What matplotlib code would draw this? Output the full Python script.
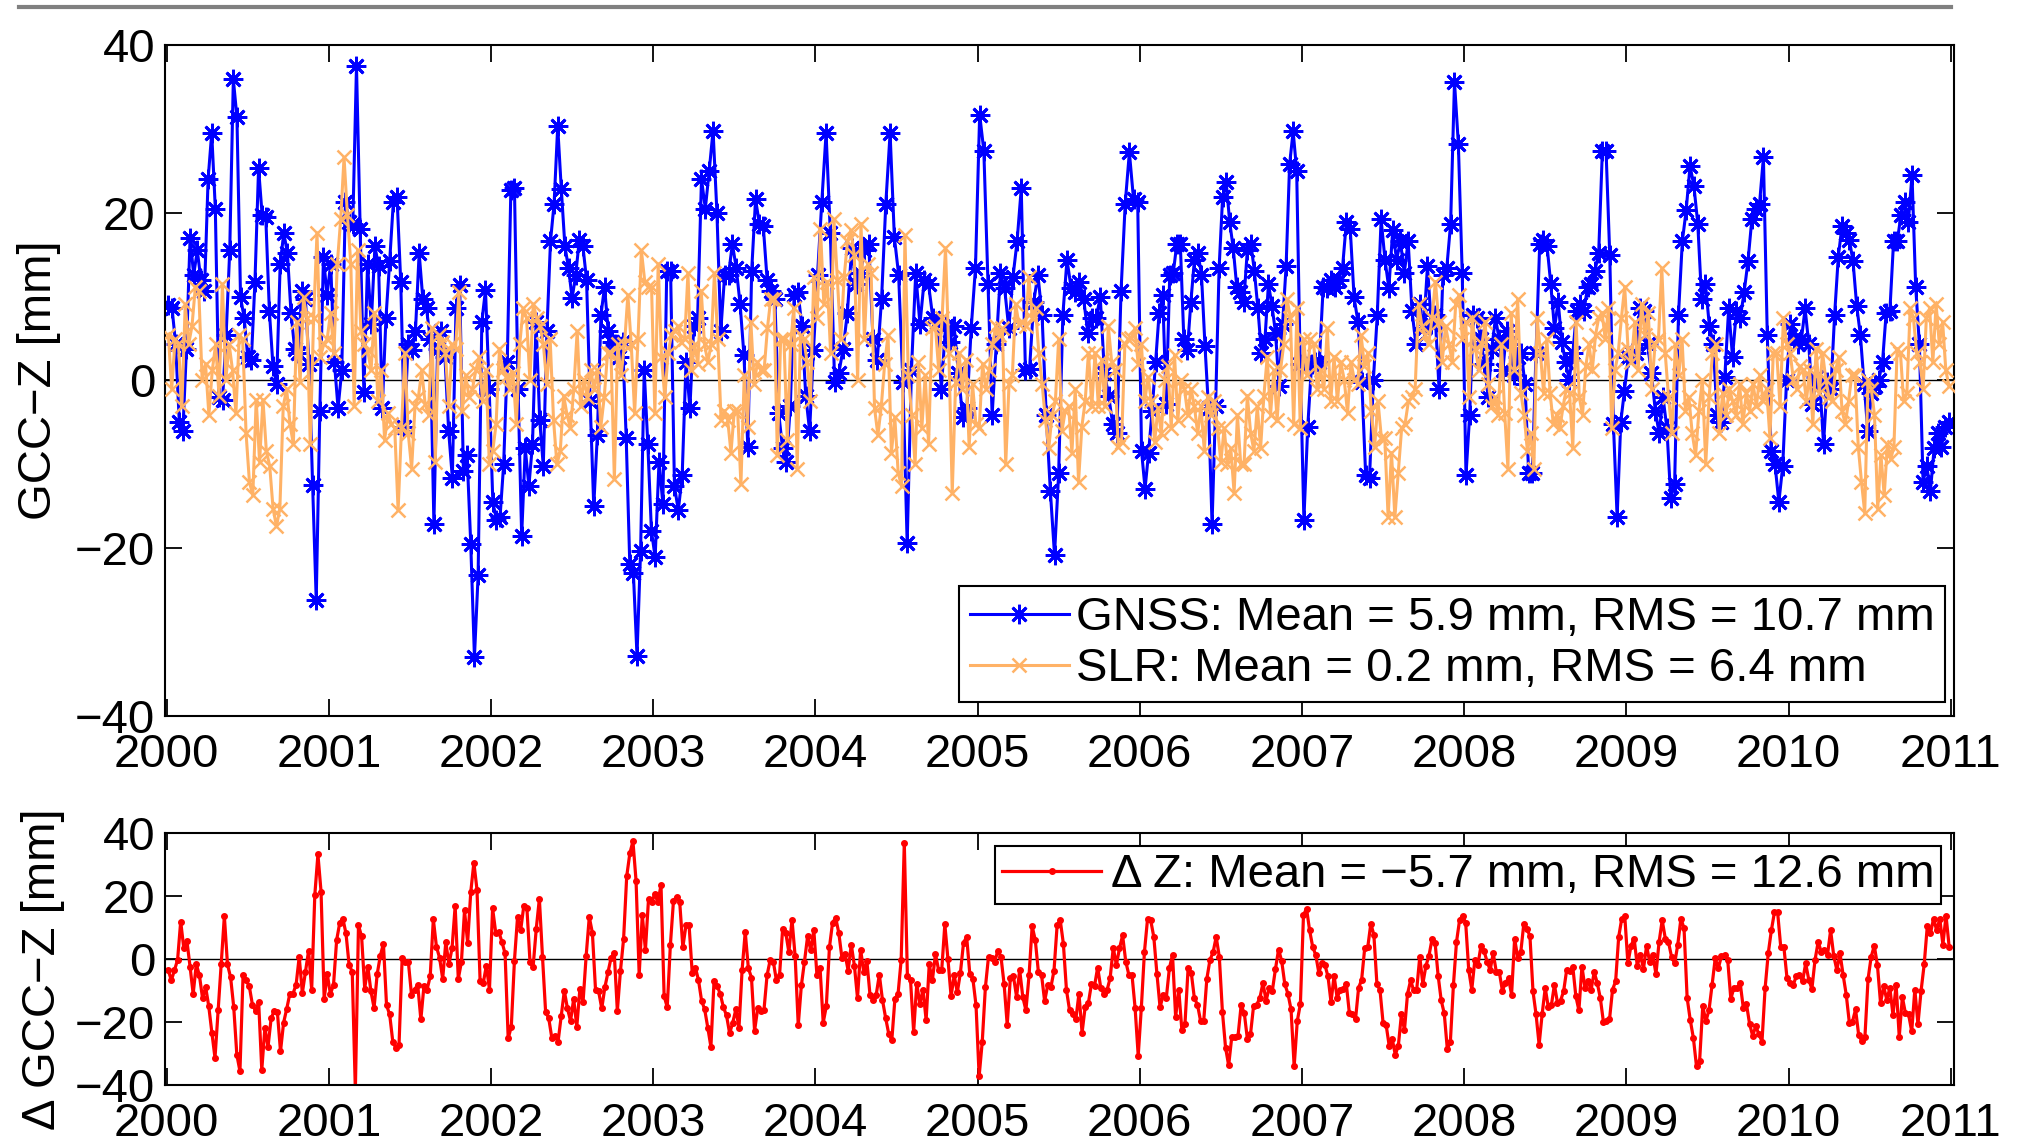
import numpy as np
import matplotlib
matplotlib.use('Agg')
import matplotlib.pyplot as plt
from matplotlib.lines import Line2D

# ## Data (mm), listed per year (roughly weekly)

gnss_by_year = {
    2000: [9.0, 8.6, 4.3, -4.9, -6.0, 3.8, 17.0, 12.6, 15.5, 12.0, 10.7, 24.0, 29.5, 20.5, -2.0, -2.3, 5.4, 15.5,
           35.9, 31.4, 9.9, 7.5, 2.8, 2.5, 11.8, 25.3, 19.7, 19.5, 8.3, 1.7, -0.4, 13.9, 17.6, 15.2, 8.1, 3.8, 3.3,
           10.7, 9.7, 2.0, -12.5, -26.2, -3.6, 14.7, 10.2],
    2001: [13.9, 2.2, -3.3, 1.2, 21.3, 18.9, 18.7, 37.5, 18.1, -1.4, 13.9, 6.7, 16.0, 13.6, -3.3, 7.5, 14.2, 21.3,
           21.9, 11.8, -5.5, 4.3, 3.6, 5.9, 15.2, 9.7, 8.6, 4.9, -17.1, 3.8, 5.9, 2.8, -6.0, -11.6, 8.6, 11.4, -10.8,
           -8.9, -19.5, -33.0, -23.2, 7.0, 10.8, -1.0],
    2002: [-14.5, -16.6, -16.3, -10.0, 2.2, 22.7, 22.9, -1.0, -18.5, -8.1, -12.6, -7.6, 7.0, -4.7, -10.2, 5.9, 16.6,
           21.1, 30.3, 22.8, 16.0, 13.4, 9.8, 12.6, 16.8, 16.0, 12.0, -2.5, -15.0, -6.5, 7.8, 11.2, 5.9, 4.6, 4.3,
           2.8, 4.6, -6.8, -21.9, -23.0, -32.8, -20.3, 1.2, -7.6, -17.9],
    2003: [-21.1, -9.7, -14.7, 13.1, 13.1, -12.6, -15.5, -11.3, 2.2, -3.3, 6.5, 7.5, 24.0, 20.5, 25.0, 29.8, 20.0,
           5.9, 12.6, 12.6, 16.3, 13.4, 9.1, 3.0, -7.9, 13.1, 21.6, 18.7, 18.4, 12.0, 10.7, 9.7, -3.9, -8.1, -9.7,
           -3.1, 10.2, 10.5, 6.5, -1.8, -6.0, 3.6],
    2004: [12.6, 21.3, 29.5, 17.6, -0.2, 0.9, 3.8, 8.1, 15.8, 11.5, 12.8, 15.5, 16.3, 4.9, 2.5, 9.7, 21.1, 29.5,
           17.1, 12.6, -0.2, -19.4, 1.2, 12.8, 6.7, 12.0, 11.5, 7.5, 7.0, -1.0, 6.5, 4.6, 6.5, 0.9, -4.4, -3.3, 6.2,
           13.4],
    2005: [31.7, 27.4, 11.5, -4.1, 4.3, 12.8, 11.0, 6.2, 12.3, 16.6, 22.9, 1.2, 1.4, 9.4, 12.6, 7.8, -4.1, -13.2,
           -20.8, -11.0, 7.8, 14.4, 11.0, 10.5, 11.8, 9.7, 5.7, 7.5, 7.5, 9.9, 0.9, -1.8, -5.2, -6.3, 10.7, 21.1,
           27.2, 21.6, 21.3],
    2006: [-8.4, -12.9, -8.6, -3.6, 2.2, 8.1, 10.2, -2.8, 12.6, 12.8, 16.3, 16.3, 4.9, 3.6, 9.4, 14.4, 15.2, 12.6,
           4.1, -3.3, -17.1, -3.1, 13.4, 21.9, 23.7, 18.9, 15.8, 11.2, 10.5, 9.4, 15.5, 16.3, 13.1, 8.6, 3.3, 4.9,
           11.5, 8.9, 5.7, -0.7, 6.7, 13.6, 25.8, 29.7, 25.0, 2.0],
    2007: [-16.6, -5.5, 2.0, 2.2, 2.2, 11.2, 11.0, 12.0, 11.2, 12.0, 13.4, 18.9, 18.1, 9.9, 7.0, -0.2, -11.3, -11.6,
           0.1, 7.8, 19.2, 14.4, 11.0, 17.9, 14.4, 16.6, 12.8, 16.6, 8.3, 4.3, 9.1, 6.2, 13.6, 6.7, 7.8, -1.0, 12.6,
           13.4, 18.7, 35.6, 28.2, 12.8],
    2008: [-11.3, -4.1, 7.8, 7.5, 4.9, 2.0, -2.0, 3.8, 7.5, 4.9, 1.2, 5.9, 4.3, 0.6, 2.8, 3.3, -0.4, -11.0, -11.0,
           3.3, 16.3, 16.8, 16.0, 11.5, 6.2, 9.4, 4.6, 2.2, 0.1, 3.3, 8.3, 9.1, 8.3, 11.2, 11.5, 13.1, 15.2, 27.4,
           27.4, 15.0, -5.2, -16.3, -4.9, -1.2],
    2009: [2.8, 3.3, 3.3, 8.6, 8.3, 4.3, 0.9, -3.6, -6.3, -2.0, -5.7, -14.0, -12.4, 7.8, 16.6, 20.3, 25.6, 23.2,
           18.7, 9.7, 11.5, 6.5, 4.3, -4.1, -4.9, 0.4, 8.6, 2.8, 8.3, 7.5, 10.5, 14.2, 19.2, 20.5, 21.1, 26.6, 5.4,
           -8.4, -10.0, -14.5, -10.2, 0.1],
    2010: [6.7, 4.9, 4.3, 4.9, 8.6, 4.3, -2.8, 0.4, -0.4, -7.6, -0.2, -1.0, 7.8, 14.7, 18.4, 17.6, 16.8, 14.2, 8.9,
           5.4, -0.4, -6.0, -1.5, -0.7, 0.1, 2.2, 8.1, 8.3, 16.6, 16.6, 19.7, 21.3, 18.9, 24.5, 11.2, 4.3, -12.1,
           -10.2, -13.2, -8.1, -6.3, -7.9, -5.5, -4.9],
}

slr_by_year = {
    2000: [5.4, -1.0, 4.9, 4.3, -3.1, 9.1, 4.3, 6.5, 11.2, 10.7, 0.1, 2.0, -4.1, 1.2, 4.3, -1.8, 11.5, 0.1, 4.3,
           1.2, -3.9, 5.4, 4.9, -6.3, -12.1, -13.7, -2.3, -9.7, -2.3, -8.4, -10.2, -15.3, -17.4, -15.3, -3.1, -1.0,
           -5.2, -7.6, 7.0, -0.2, 9.9, 7.5, -7.6, 7.5, 17.6, 2.8, 4.3, 4.9],
    2001: [8.1, 3.3, 13.9, 19.2, 26.6, 19.7, 13.9, -3.1, 15.5, 5.9, 4.3, 3.6, 1.2, 8.1, -2.5, 1.2, -7.1, -3.9, -5.2,
           -5.7, -15.5, -5.7, 3.3, -6.3, -10.5, -3.1, -2.0, 1.2, -2.8, -4.1, 6.2, -9.7, 5.4, 4.6, 3.3, -3.1, 4.3,
           3.8, 10.5, -3.6, 0.6, -2.0, -1.0, 1.2, 2.8, -2.5, 1.2, -10.0],
    2002: [-8.4, -5.2, 3.8, 1.2, 0.4, -1.0, 0.9, -5.2, 4.3, 8.6, 7.5, 0.1, 9.1, 7.5, 6.5, 4.3, -0.4, 4.9, -4.7,
           -10.0, -8.4, -1.8, -4.1, -5.7, -1.0, 5.9, -3.1, 0.1, -2.0, 1.2, -1.0, 1.2, -5.5, -2.0, 3.3, 3.3, -11.8,
           4.3, 0.6, 4.3, 10.2, 4.3, -3.9, 4.9, 15.5, 11.8, 11.2, 11.2],
    2003: [-3.9, 13.9, 2.8, -2.0, 3.3, 5.4, 5.9, 6.5, 4.6, 4.9, 12.8, 1.2, 4.3, 2.0, 10.7, 4.3, 2.2, 4.3, 12.8, 4.9,
           -4.7, -3.6, -4.7, -8.6, -3.6, -3.6, -12.4, 0.6, -5.5, 7.0, -0.4, 2.2, 1.2, 1.2, 6.2, 9.7, 9.7, -8.9, 4.9,
           4.9, -7.1, 4.3, 8.6, -10.5, 5.4, 4.9, 2.2, -2.5, 12.3],
    2004: [7.5, 18.1, 9.1, 11.8, 3.3, 19.2, 12.0, 4.9, 12.3, 16.6, 17.9, 15.0, 0.1, 18.7, 4.9, 13.9, 12.8, -3.3,
           -6.5, -3.1, 2.0, 5.4, -8.6, -4.4, -11.0, -12.6, 17.3, 0.6, -4.1, -10.0, 2.2, -5.7, 0.6, -7.6, 6.2, 6.5,
           1.2, 7.5, 15.8, 3.3, -13.4, -0.2, 3.3, -1.0, 2.5, -7.9, -0.4, -5.2],
    2005: [-5.7, 2.0, -1.0, 1.2, 4.3, 6.5, 5.4, 6.2, -10.0, -0.4, 0.6, 9.1, 6.7, 7.0, 6.5, 12.3, 7.5, 8.6, 3.3,
           -0.4, -4.7, -8.1, -4.1, -2.5, 4.9, -6.0, -3.6, -3.1, -8.6, -1.0, -12.1, -5.5, -2.5, 3.3, -3.1, 3.3, -3.1,
           2.5, -3.1, 6.5, 2.2, 1.2, -7.9, -7.3, 4.3, 4.9, 5.1, 6.2, 2.0],
    2006: [4.3, -2.5, 0.4, -2.5, -7.3, -3.3, -6.3, 0.1, 1.7, -5.7, 3.0, -4.7, 0.1, -1.0, -4.1, -1.0, -3.1, -6.3,
           -3.1, -8.4, -2.0, -4.1, -2.5, -5.7, -9.7, -5.7, -10.0, -8.1, -13.4, -4.1, -10.0, -10.0, -1.8, -6.3, -8.4,
           -3.1, -8.1, -1.8, 2.8, -4.1, 1.2, -4.7, 1.2, 4.3, 9.7, 7.5, -5.2, 8.6, -5.7],
    2007: [4.9, 0.6, 4.9, 4.3, -1.0, 1.2, -1.0, 6.2, -2.5, 2.8, -2.5, 2.2, 0.1, -3.9, 2.2, 0.1, -0.4, 5.4, 1.7, 3.3,
           -3.6, -7.9, -2.5, -6.8, -6.8, -16.3, -8.6, -16.3, -11.0, -5.7, -5.2, -2.5, -2.0, -1.0, 9.1, 6.5, 5.4, 4.3,
           7.5, 11.8, 7.0, 2.2, 6.5, 4.3, 2.2, 9.1, 10.2, 4.9],
    2008: [7.0, -2.0, 7.5, 3.8, 1.2, 4.3, 7.0, -0.4, -3.1, -2.0, -4.1, 4.3, -3.9, -10.5, 8.1, 1.2, 9.7, -1.5, -4.1,
           -8.4, -6.3, -10.5, 7.5, 3.3, -1.5, 4.9, -1.5, -5.2, -4.1, -5.7, -3.1, -1.0, -1.5, -8.1, 7.0, -2.0, -4.1,
           1.7, 4.3, 1.2, 5.4, 7.5, 8.1, 4.9, 8.6, -5.7, 1.2, 3.3, 7.5, 11.2],
    2009: [3.8, 2.2, 7.0, 1.2, 9.1, 5.4, 8.1, -1.0, 4.3, 4.9, 13.4, 3.3, -2.0, -6.3, 4.3, 0.6, 4.9, -3.6, -2.0,
           -6.3, -8.9, -3.6, 0.1, -10.0, -2.0, 3.3, 4.3, -6.3, -1.5, -4.1, -1.0, -2.5, -4.1, -0.4, -5.2, -1.5, -3.6,
           -0.4, -3.1, 0.6, -2.5, -1.0, -6.8, 3.3, 3.3, -3.1, 7.5, 4.3],
    2010: [3.3, 0.1, -1.0, 1.7, 1.2, -2.5, 1.2, -5.2, 3.8, -1.5, 3.3, 0.1, -2.0, -2.5, 1.2, 2.8, -3.6, -5.2, -2.5,
           0.6, 0.6, -7.9, -12.1, -15.8, 0.1, -1.0, -4.1, -15.3, -8.9, -13.7, -7.6, -9.4, -7.9, 3.8, 3.3, -2.5, -1.5,
           8.6, 7.5, 3.3, 2.2, -1.0, 7.5, 8.6, 2.2, 9.1, 4.3, 7.0, 1.2, -0.7],
}

dz_by_year = {
    2000: [-3.5, -6.8, -3.5, -0.3, 11.9, 3.4, 5.7, -2.4, -11.1, -1.6, -5.2, -12.4, -8.9, -15.0, -23.4, -31.4, -16.3,
           -1.6, 13.6, -1.7, -5.8, -15.2, -30.4, -35.6, -5.0, -6.8, -8.7, -14.5, -16.5, -13.7, -35.2, -21.8, -27.9,
           -18.8, -16.5, -16.9, -29.3, -20.2, -15.8, -11.0, -11.0, -8.2, 0.7, -10.8, -4.0, 2.6, -9.7, 20.3, 33.2,
           21.4, -12.6, -4.8],
    2001: [-11.1, -8.2, 6.0, 11.5, 12.8, 8.1, -1.9, -4.0, -41.7, 10.7, 7.2, -9.4, -2.5, -10.3, -15.5, -4.8, 1.0,
           4.9, -14.7, -17.6, -26.2, -28.3, -27.3, 0.2, -0.8, -1.0, -11.3, -9.7, -8.2, -19.2, -8.5, -9.7, -5.5, 12.6,
           3.9, 0.4, -6.3, 5.4, -1.7, 3.4, 16.8, -6.3, -1.0, 15.4, 5.2, 21.2, 30.6, 22.0, -7.1, -7.7, -2.1, -9.7],
    2002: [16.1, 8.4, 8.6, 5.4, 1.8, -25.2, -21.5, -0.6, 13.3, 9.1, 16.8, 16.2, -1.0, -2.4, 9.6, 19.1, 0.7, -16.8,
           -18.8, -25.1, -24.4, -26.2, -18.1, -10.1, -15.7, -19.7, -12.6, -21.5, -9.4, -13.7, 1.0, 13.3, 8.3, -9.7,
           -10.3, -15.7, -9.0, -4.2, 0.4, 2.0, -16.5, -3.7, 6.3, 26.2, 33.5, 37.4, 24.8, -5.0, 14.0, 2.8, 19.1,
           18.0],
    2003: [20.6, 18.0, 23.5, -11.8, -15.3, 4.4, 18.5, 19.8, 18.0, 3.7, 10.7, 10.7, -4.3, -2.7, -6.6, -13.2, -16.0,
           -21.8, -27.9, -6.9, -8.5, -11.1, -15.3, -17.9, -23.6, -20.2, -16.0, -21.8, -3.5, 8.6, -2.9, -5.9, -22.8,
           -15.7, -16.5, -16.3, -5.2, -0.3, -0.8, -6.8, -5.2, 9.6, 8.3, 2.1, 12.5, 0.9, -21.0, -8.4, -0.8, 7.2, 2.8,
           9.1],
    2004: [-5.2, -2.9, -20.2, -15.0, 3.7, 11.5, 13.1, 8.3, 0.4, 1.6, -3.7, 4.6, -2.1, -12.4, 3.0, -4.2, -0.6, -11.3,
           -13.0, -11.3, -5.0, -13.0, -18.6, -23.7, -25.8, -12.6, -11.1, -0.3, 36.9, -5.5, -6.8, -23.1, -7.9, -14.2,
           -9.7, -19.4, -1.7, -6.8, 1.6, -3.5, -3.5, 11.0, -0.1, -11.8, -5.2, -10.6, -4.3, 5.2, 7.0, -4.7, -6.4,
           -14.7],
    2005: [-37.2, -26.2, -9.0, 0.7, 0.4, -0.8, 2.6, 0.7, -8.0, -20.9, -6.1, -5.5, -12.0, -3.5, -12.1, -16.3, -5.2,
           10.4, 6.0, -4.2, -5.0, -13.4, -8.2, -9.0, -3.7, 10.7, 12.3, 4.9, -9.9, -16.3, -17.4, -19.2, -11.0, -23.4,
           -15.2, -14.1, -8.0, -8.5, -2.7, -9.2, -11.0, -9.9, -6.1, 3.6, -1.9, 3.4, 7.5, -0.8, -5.0, -5.0, -15.5,
           -30.7],
    2006: [-15.5, 2.3, 12.8, 12.3, 7.0, -4.7, -15.3, -11.5, -12.4, -2.9, 1.3, -18.4, -9.7, -22.6, -20.5, -2.9, -4.3,
           -12.4, -14.5, -19.7, -19.7, -6.3, -0.3, 2.1, 7.0, 0.7, -16.8, -28.1, -33.8, -24.7, -24.9, -24.4, -14.7,
           -17.1, -25.4, -23.9, -14.8, -14.5, -12.4, -7.6, -13.2, -9.2, -10.1, -3.2, 3.0, -0.6, -8.0, -11.0, -16.0,
           -34.1, -19.7, -14.2],
    2007: [14.0, 16.0, 9.1, 3.9, 1.3, -4.3, -1.4, -1.9, -5.5, -13.7, -5.3, -12.4, -9.7, -9.4, -8.0, -17.3, -17.6,
           -19.2, -9.2, -6.6, 3.4, 3.7, 11.2, 7.7, -8.0, -9.9, -20.2, -20.9, -27.5, -25.4, -30.4, -27.5, -17.6,
           -22.5, -11.1, -6.8, -9.9, -9.7, 0.7, -7.9, -2.2, 1.0, 6.3, 5.2, -5.3, -13.1, -17.3, -28.6, -26.2, -8.2,
           5.4, 12.3, 13.8],
    2008: [11.5, -3.5, -9.7, -0.3, -1.9, 4.2, 2.5, -0.8, -3.5, 1.8, -4.0, -4.2, -10.1, -7.6, -6.1, -11.3, 6.5, 0.4,
           2.1, 11.2, 9.6, 7.3, -10.3, -17.6, -27.2, -17.4, -9.2, -15.3, -14.7, -8.2, -13.9, -13.2, -10.3, -3.5,
           -3.8, -2.4, -11.8, -16.3, -2.4, -9.2, -7.1, -9.7, -4.2, -7.6, -12.4, -19.9, -19.7, -19.2, -9.7, -7.1, 7.0,
           12.8, 13.5],
    2009: [-1.4, 4.2, 6.5, -2.1, 1.3, -3.1, 4.2, -1.0, 1.3, -4.8, 5.4, 12.3, 6.5, 5.4, 0.7, -1.4, 4.6, 12.8, 9.8,
           -12.4, -19.4, -25.1, -34.1, -32.3, -15.0, -19.7, -16.3, -8.2, 0.2, -2.9, 1.0, 1.3, -0.3, -12.6, -9.2,
           -9.2, -7.6, -15.5, -14.2, -20.5, -24.4, -21.3, -23.9, -26.2, -9.2, 1.8, 9.1, 14.9, 14.9, 3.9, 3.9, -5.9],
    2010: [-7.6, -8.2, -5.5, -5.2, -7.1, -1.4, -6.6, -9.5, -0.3, 5.4, 2.3, 2.8, 1.3, 9.1, 1.0, -3.5, 1.8, -5.0,
           -11.3, -20.2, -19.9, -16.0, -24.2, -26.0, -24.7, -6.4, 0.7, 4.2, -1.9, -13.9, -8.7, -12.9, -9.2, -17.8,
           -8.2, -24.7, -12.1, -17.3, -17.6, -23.0, -9.7, -20.7, -10.1, -1.7, 10.5, 8.1, 12.8, 9.1, 12.8, 4.6, 13.8,
           3.9],
}


def to_series(by_year):
    # spread each year's samples evenly inside that year
    t, v = [], []
    for year, vals in by_year.items():
        n = len(vals)
        t.append(year + (np.arange(n) + 0.5) / n)
        v.append(np.asarray(vals, dtype=float))
    return np.concatenate(t), np.concatenate(v)


t_gnss, gnss = to_series(gnss_by_year)
t_slr, slr = to_series(slr_by_year)
t_dz, dz = to_series(dz_by_year)

year_ticks = list(range(2000, 2012))
y_ticks = [-40, -20, 0, 20, 40]

# ## Plot

plt.rcParams['font.family'] = ['Liberation Sans', 'DejaVu Sans']
plt.rcParams['font.size'] = 34

fig = plt.figure(figsize=(20.2, 11.45), dpi=100)
ax1 = fig.add_axes([0.0817, 0.3747, 0.8856, 0.5860])
ax2 = fig.add_axes([0.0817, 0.0524, 0.8856, 0.2201])

# gray rule across the top of the page
fig.add_artist(Line2D([0.0094, 0.9658], [0.9943, 0.9943], transform=fig.transFigure,
                      color='#808080', lw=3))

ax1.axhline(0, color='k', lw=1.0, zorder=1)
ax1.plot(t_gnss, gnss, color='#0000FF', lw=2.2, marker=(8, 2, 0), ms=14, mew=2.0,
         label='GNSS: Mean = 5.9 mm, RMS = 10.7 mm', zorder=2)
ax1.plot(t_slr, slr, color='#FFB266', lw=2.2, marker='x', ms=10, mew=1.8,
         label='SLR: Mean = 0.2 mm, RMS = 6.4 mm', zorder=3)

ax2.axhline(0, color='k', lw=1.0, zorder=1)
ax2.plot(t_dz, dz, color='#FF0000', lw=2.3, marker='.', ms=8,
         label='\u0394 Z: Mean = \u22125.7 mm, RMS = 12.6 mm', zorder=2)

for ax in (ax1, ax2):
    ax.set_xlim(1999.99, 2011.02)
    ax.set_ylim(-40, 40)
    ax.set_xticks(year_ticks)
    ax.set_yticks(y_ticks)
    ax.tick_params(direction='in', length=12, width=1.3, top=True, right=True,
                   labelsize=34, pad=7)
    ax.tick_params(axis='x', pad=12)
    for s in ax.spines.values():
        s.set_linewidth(1.5)

ax1.set_ylabel('GCC\u2212Z [mm]', fontsize=34)
ax2.set_ylabel('\u0394 GCC\u2212Z [mm]', fontsize=34)
ax1.yaxis.set_label_coords(-0.058, 0.5)
ax2.yaxis.set_label_coords(-0.056, 0.46)

leg1 = ax1.legend(loc='lower right', bbox_to_anchor=(0.995, 0.021), fancybox=False,
                  edgecolor='k', framealpha=1, fontsize=34, handlelength=2.1,
                  handletextpad=0.15, borderpad=0.22, labelspacing=0.15, borderaxespad=0)
leg1.get_frame().set_linewidth(1.5)

leg2 = ax2.legend(loc='upper right', bbox_to_anchor=(0.993, 0.948), fancybox=False,
                  edgecolor='k', framealpha=1, fontsize=34, handlelength=2.1,
                  handletextpad=0.2, borderpad=0.15, borderaxespad=0)
leg2.get_frame().set_linewidth(1.5)

fig.savefig('out.png', dpi=100)
